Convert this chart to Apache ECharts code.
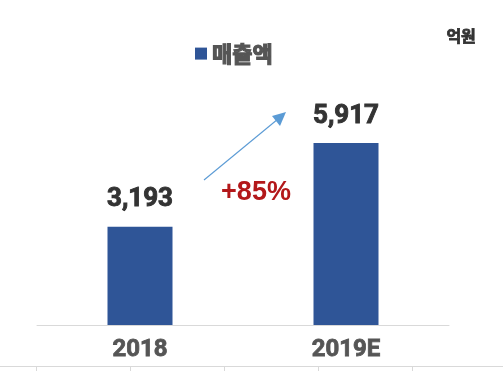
<!DOCTYPE html>
<html><head><meta charset="utf-8">
<script src="https://cdn.jsdelivr.net/npm/echarts@6/dist/echarts.min.js"></script>
<style>html,body{margin:0;padding:0;background:#fff}#c{width:503px;height:371px}</style>
</head><body><div id="c"></div>
<script>
const categories = ['2018', '2019E'];
const salesValues = [3193, 5917];
const seriesName = '매출액';
const unitLabel = '억원';
const growthLabel = '+85%';

const chart = echarts.init(document.getElementById('c'));
const narrow = '"Liberation Sans Narrow", "Roboto", "Noto Sans CJK KR", sans-serif';
const kr = '"Noto Sans CJK KR", sans-serif';
chart.setOption({
  animation: false,
  backgroundColor: '#fff',
  legend: {
    data: [seriesName], top: 37, left: 190,
    icon: 'rect', itemWidth: 12, itemHeight: 12, itemGap: 3,
    textStyle: { fontSize: 22, fontWeight: 'bold', color: '#555', fontFamily: kr, textBorderColor: '#555', textBorderWidth: 1.2 }
  },
  grid: { left: 37, right: 54, top: 79, bottom: 46 },
  xAxis: {
    type: 'category', data: categories,
    axisLine: { lineStyle: { color: '#d9d9d9', width: 1 } },
    axisTick: { show: false },
    axisLabel: { fontSize: 24, fontWeight: 'bold', color: '#555', margin: 13, fontFamily: narrow, textBorderColor: '#555', textBorderWidth: 0.8 }
  },
  yAxis: { type: 'value', min: 0, max: 8000, show: false, splitLine: { show: false } },
  series: [{
    name: seriesName, type: 'bar', data: salesValues, barWidth: 65,
    itemStyle: { color: '#2f5597' },
    label: {
      show: true, position: 'top', distance: 14,
      formatter: p => p.value.toLocaleString('en-US'),
      fontSize: 26, fontWeight: 'bold', color: '#333', fontFamily: narrow, textBorderColor: '#333', textBorderWidth: 0.9
    }
  }],
  graphic: [
    { type: 'text', left: 446, top: 28, style: { text: unitLabel, fontSize: 16, fontWeight: 'bold', fill: '#333', fontFamily: kr, stroke: '#333', lineWidth: 0.8 } },
    { type: 'text', x: 256, y: 193, style: { text: growthLabel, fontSize: 27, fontWeight: 'bold', fill: '#b3181a', fontFamily: '"Liberation Sans", Arial, sans-serif', align: 'center', verticalAlign: 'middle' } },
    { type: 'line', shape: { x1: 204, y1: 180, x2: 278, y2: 119 }, style: { stroke: '#5b9bd5', lineWidth: 1.1 } },
    { type: 'polygon', shape: { points: [[286, 112], [272, 116], [280, 126]] }, style: { fill: '#5b9bd5' } },
    { type: 'line', shape: { x1: 0, y1: 366.5, x2: 503, y2: 366.5 }, style: { stroke: '#d9d9d9', lineWidth: 1 } },
    ...[36, 130, 224, 318, 412].map(x => ({ type: 'line', shape: { x1: x + 0.5, y1: 366, x2: x + 0.5, y2: 371 }, style: { stroke: '#d9d9d9', lineWidth: 1 } }))
  ]
});
</script></body></html>
